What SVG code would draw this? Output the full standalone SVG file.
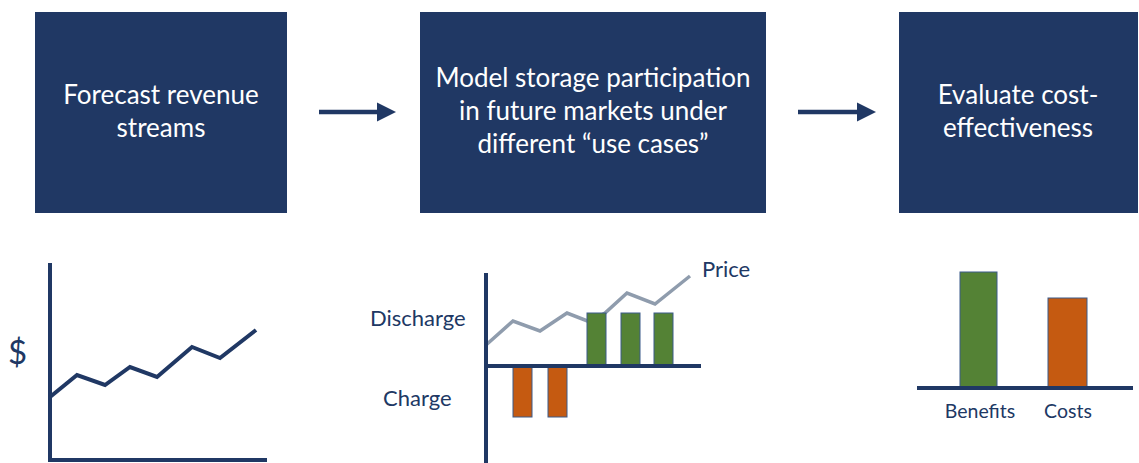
<svg xmlns="http://www.w3.org/2000/svg" width="1139" height="463" viewBox="0 0 1139 463">
  <style>
    .box { fill: #203864; }
    .boxtext { fill: #ffffff; font-family: Lato, "Liberation Sans", sans-serif; font-size: 26px; text-anchor: middle; }
    .axis { fill: none; stroke: #203864; stroke-width: 4; stroke-linecap: butt; }
    .trend { fill: none; stroke: #203864; stroke-width: 4; stroke-linejoin: miter; }
    .price { fill: none; stroke: #8f9cad; stroke-width: 3.5; }
    .label { fill: #203864; font-family: Lato, "Liberation Sans", sans-serif; font-size: 22px; }
    .green { fill: #548235; stroke: #3b5a8a; stroke-width: 1; }
    .orange { fill: #c55a11; stroke: #3b5a8a; stroke-width: 1; }
    .conn { stroke: #203864; stroke-width: 4.5; fill: none; }
  </style>
  <defs>
    <marker id="head" viewBox="0 0 10 10" refX="0" refY="5" markerWidth="19" markerHeight="20" markerUnits="userSpaceOnUse" orient="auto">
      <path d="M0,0 L10,5 L0,10 Z" fill="#203864"/>
    </marker>
  </defs>

  <rect width="1139" height="463" fill="#ffffff"/>

  <g id="node-forecast">
    <rect class="box" x="35" y="12" width="252" height="201"/>
    <text class="boxtext" x="161" y="104">Forecast revenue</text>
    <text class="boxtext" x="161" y="137">streams</text>
  </g>

  <g id="node-model">
    <rect class="box" x="420" y="12" width="346" height="201"/>
    <text class="boxtext" x="593" y="87">Model storage participation</text>
    <text class="boxtext" x="593" y="120">in future markets under</text>
    <text class="boxtext" x="593" y="153">different “use cases”</text>
  </g>

  <g id="node-evaluate">
    <rect class="box" x="899" y="12" width="239" height="201"/>
    <text class="boxtext" x="1018" y="104">Evaluate cost-</text>
    <text class="boxtext" x="1018" y="137">effectiveness</text>
  </g>

  <g id="connectors">
    <line class="conn" x1="319" y1="112" x2="377" y2="112" marker-end="url(#head)"/>
    <line class="conn" x1="798" y1="112" x2="857" y2="112" marker-end="url(#head)"/>
  </g>

  <!-- revenue trend chart -->
  <g id="chart-revenue">
    <text class="label" x="8" y="364" style="font-size:33px">$</text>
    <path class="axis" d="M50,263 V460 H267"/>
    <polyline class="trend" points="50,397 77,375 105,385 130,367 157,377 192,347 220,358 256,330"/>
  </g>

  <!-- dispatch chart -->
  <g id="chart-dispatch">
    <polyline class="price" points="486,345 513,321 540,331 567,313 590,322 605,313 627,293 655,304 690,276"/>
    <rect class="green" x="587" y="313" width="19" height="53"/>
    <rect class="green" x="621" y="313" width="19" height="53"/>
    <rect class="green" x="654" y="313" width="19" height="53"/>
    <rect class="orange" x="513" y="366" width="19" height="51"/>
    <rect class="orange" x="548" y="366" width="19" height="51"/>
    <path class="axis" d="M486,273 V463 M486,366 H701"/>
    <text class="label" x="702" y="277">Price</text>
    <text class="label" x="370" y="326">Discharge</text>
    <text class="label" x="383" y="406">Charge</text>
  </g>

  <!-- benefit/cost chart -->
  <g id="chart-benefits">
    <rect class="green" x="960" y="272" width="37" height="116"/>
    <rect class="orange" x="1048" y="298" width="39" height="90"/>
    <line class="axis" x1="917" y1="388" x2="1133" y2="388"/>
    <text class="label" x="980" y="418" text-anchor="middle" style="font-size:19.5px">Benefits</text>
    <text class="label" x="1068" y="418" text-anchor="middle" style="font-size:19.5px">Costs</text>
  </g>
</svg>
